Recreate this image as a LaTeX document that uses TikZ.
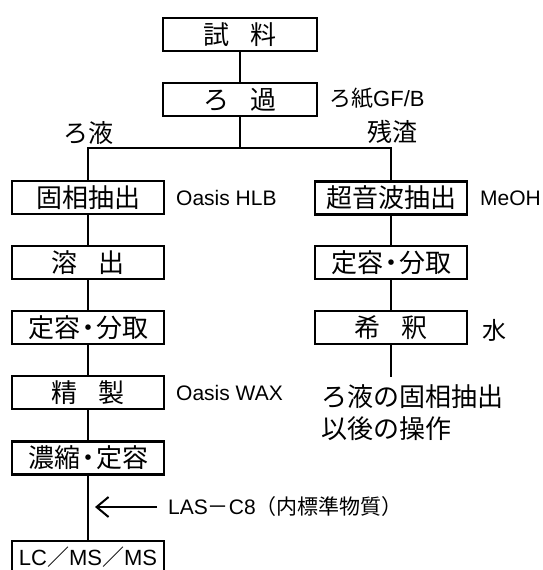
\documentclass[tikz,border=0pt]{standalone}
\usepackage{fontspec}
\setmainfont{Noto Sans CJK JP}
\newfontfamily\la{Liberation Sans}
\usetikzlibrary{arrows.meta}
\newcommand{\dt}{\kern-5pt・\kern-5pt}
\newcommand{\fs}[1]{\fontsize{#1}{#1}\selectfont}
\tikzset{
  sz26/.style={font=\fs{26}, text height=22.88pt, text depth=3.12pt},
  sz25/.style={font=\fs{25}, text height=22pt, text depth=3pt},
  sz24/.style={font=\fs{24}, text height=21.12pt, text depth=2.88pt},
  sz22/.style={font=\fs{22}, text height=19.36pt, text depth=2.64pt},
  sz21/.style={font=\fs{21}, text height=18.48pt, text depth=2.52pt},
  fbox/.style={draw, line width=2.1pt, minimum width=152pt, minimum height=33pt,
    inner sep=0pt, sz26},
  lbl/.style={inner sep=0pt},
  conn/.style={line width=2.1pt},
  arr/.style={line width=2pt, -{Straight Barb[length=12pt,width=20pt,line width=2pt]}}
}
\begin{document}
\begin{tikzpicture}[x=1pt,y=-1pt]
\useasboundingbox (0,0) rectangle (542,570);
\fill[white] (0,0) rectangle (542,570);
\clip (0,0) rectangle (542,570);
% top
\node[fbox, minimum width=154pt] (t1) at (240,34.5) {試\hspace{0.8em}料};
\node[fbox, minimum width=154pt] (t2) at (240,99.5) {ろ\hspace{0.8em}過};
\node[lbl, anchor=west, sz22] (gf) at (329,98) {ろ紙{\la GF/B}};
\coordinate (br) at (240,148);
\node[lbl, sz25] (filt) at (88.5,133) {ろ液};
\node[lbl, sz25] (res) at (392.5,132) {残渣};
% left column
\node[fbox] (L1) at (88,197.5) {固相抽出};
\node[fbox] (L2) at (88,262.5) {溶\hspace{0.8em}出};
\node[fbox] (L3) at (88,327.5) {定容\dt 分取};
\node[fbox] (L4) at (88,392.5) {精\hspace{0.8em}製};
\node[fbox] (L5) at (88,458) {濃縮\dt 定容};
\node[fbox, sz22] (L6) at (88,557.5) {{\la LC}／{\la MS}／{\la MS}};
\node[lbl, anchor=west, sz21, font=\fs{21}\la] (hlb) at (176,198) {Oasis HLB};
\node[lbl, anchor=west, sz21, font=\fs{21}\la] (wax) at (176,393) {Oasis WAX};
\node[lbl, anchor=west, sz21] (las) at (168,507) {{\la LAS}－{\la C8}（内標準物質）};
\coordinate (tip) at (95,507);
% right column
\node[fbox] (R1) at (391,198) {超音波抽出};
\node[fbox] (R2) at (391,262.5) {定容\dt 分取};
\node[fbox] (R3) at (391,327.5) {希\hspace{0.8em}釈};
\node[lbl, anchor=west, sz21, font=\fs{21}\la] (meoh) at (480,198) {MeOH};
\node[lbl, sz24] (water) at (494,330) {水};
\coordinate (rend) at (391,377);
\node[inner sep=0pt, anchor=base west, font=\fs{26}] (n1) at (321,406) {ろ液の固相抽出};
\node[inner sep=0pt, anchor=base west, font=\fs{26}] (n2) at (321,438) {以後の操作};
% connectors
\draw[conn] (t1) -- (t2);
\draw[conn] (t2) -- (br);
\draw[conn] (L1.north) |- (br);
\draw[conn] (R1.north) |- (br);
\draw[conn] (L1) -- (L2);
\draw[conn] (L2) -- (L3);
\draw[conn] (L3) -- (L4);
\draw[conn] (L4) -- (L5);
\draw[conn] (L5) -- (L6);
\draw[arr] ([xshift=-11pt]las.west) -- (tip);
\draw[conn] (R1) -- (R2);
\draw[conn] (R2) -- (R3);
\draw[conn] (R3) -- (rend);
\end{tikzpicture}
\end{document}
